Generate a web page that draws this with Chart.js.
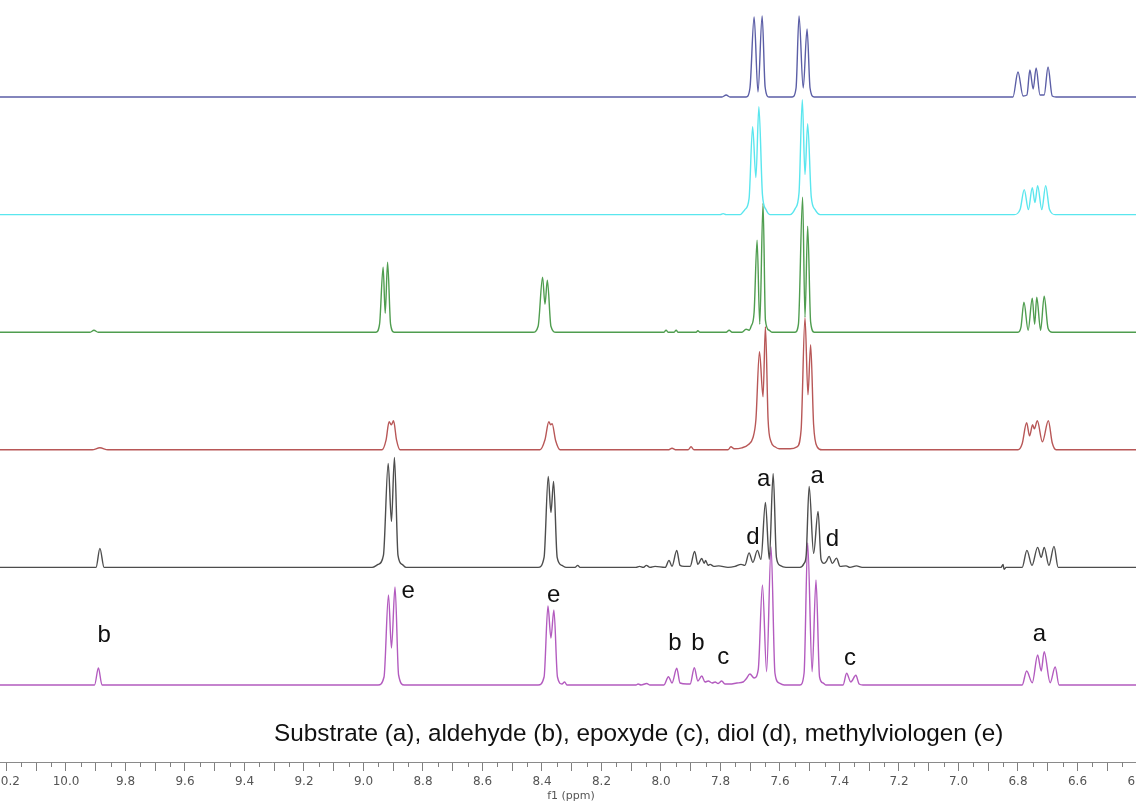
<!DOCTYPE html>
<html>
<head>
<meta charset="utf-8">
<title>RMN 1H</title>
<script src="https://cdn.jsdelivr.net/npm/chart.js@4.4.0/dist/chart.umd.min.js"></script>
<style>
  html, body { margin: 0; padding: 0; background: #fff; overflow: hidden; }
  #wrap { position: relative; width: 1136px; height: 802px; overflow: hidden; }
  #nmr { position: absolute; left: -26px; top: 0; }
  #caption { position: absolute; left: 274px; top: 719px; font: 24.3px/28px "Liberation Sans", Arial, sans-serif; color: #111; white-space: nowrap; }
</style>
</head>
<body>
<div id="wrap">
  <canvas id="nmr" width="1194" height="802"></canvas>
  <div id="caption">Substrate (a), aldehyde (b), epoxyde (c), diol (d), methylviologen (e)</div>
</div>
<script>
// Rango del eje f1 (ppm), invertido
const ppmMin = 6.2958
const ppmMax = 10.3092

// Espectros de arriba a abajo: [ppm, intensidad sobre la línea base]
const trace1 = [[10.4,0],[7.795,0],[7.781,2],[7.768,0],
  [7.714,0],[7.701,9],[7.687,80],[7.674,5],[7.660,81],[7.650,10],[7.637,0],
  [7.559,0],[7.546,9],[7.536,81],[7.522,9],[7.509,68],[7.499,9],[7.485,0],
  [6.817,0],[6.800,25],[6.783,1],[6.770,2],[6.760,27],[6.749,8],[6.739,29],[6.726,2],[6.712,2],[6.699,30],[6.685,1],[6.672,0],[6.2,0]]

const trace2 = [[10.4,0],[7.801,0],[7.791,1],[7.781,0],
  [7.734,0],[7.718,5],[7.704,16],[7.692,88],[7.681,37],[7.671,108],[7.659,20],[7.647,5],[7.634,0],
  [7.566,0],[7.549,6],[7.536,22],[7.525,115],[7.516,40],[7.507,91],[7.495,18],[7.482,5],[7.465,0],
  [6.813,0],[6.793,5],[6.779,25],[6.765,5],[6.752,27],[6.743,12],[6.734,29],[6.720,5],[6.707,29],[6.694,5],[6.675,0],[6.2,0]]

const trace3 = [[10.4,0],[9.919,0],[9.906,2],[9.892,0],
  [8.958,0],[8.946,8],[8.934,65],[8.927,19],[8.919,70],[8.909,8],[8.897,0],
  [8.430,0],[8.413,6],[8.398,55],[8.390,28],[8.382,52],[8.370,6],[8.353,0],
  [7.990,0],[7.983,2],[7.976,0],[7.956,0],[7.949,2],[7.943,0],[7.882,0],[7.876,1.5],[7.869,0],
  [7.781,0],[7.771,2],[7.761,0],[7.728,0],[7.714,3],[7.704,2],
  [7.697,6],[7.687,20],[7.677,92],[7.668,8],[7.657,129],[7.649,12],[7.637,2],[7.627,0],
  [7.549,0],[7.538,8],[7.524,135],[7.516,15],[7.507,106],[7.497,10],[7.485,0],
  [6.800,0],[6.790,5],[6.780,30],[6.766,2],[6.752,34],[6.744,8],[6.737,35],[6.724,2],[6.712,36],[6.699,4],[6.685,0],[6.2,0]]

const trace4 = [[10.4,0],[9.912,0],[9.886,2],[9.859,0],
  [8.938,0],[8.924,10],[8.914,28],[8.906,25],[8.899,29],[8.889,10],[8.877,0],
  [8.407,0],[8.390,10],[8.377,28],[8.371,25],[8.366,26],[8.354,9],[8.339,0],
  [7.976,0],[7.963,1.5],[7.949,0],[7.909,0],[7.899,3],[7.889,0],[7.775,0],[7.765,3],[7.754,1],
  [7.728,2],[7.707,5],[7.691,12],[7.681,30],[7.669,98],[7.657,53],[7.649,123],[7.640,30],[7.630,8],[7.617,3],[7.603,1],
  [7.566,1],[7.543,3],[7.529,20],[7.516,132],[7.506,55],[7.497,105],[7.487,25],[7.475,3],[7.459,0],
  [6.800,0],[6.786,6],[6.771,27],[6.761,14],[6.751,25],[6.745,21],[6.735,29],[6.718,8],[6.698,29],[6.685,7],[6.672,0],[6.2,0]]

const trace5 = [[10.4,0],[9.899,0],[9.886,19],[9.872,0],
  [8.971,0],[8.951,3],[8.933,12],[8.917,104],[8.906,46],[8.896,110],[8.884,12],[8.870,3],[8.857,0],
  [8.413,0],[8.393,10],[8.379,91],[8.370,55],[8.361,86],[8.349,10],[8.333,2],[8.319,0],
  [8.289,0],[8.280,2],[8.272,0],
  [8.084,0],[8.072,1],[8.060,0],[8.049,2],[8.037,0],[8.020,1],[7.986,0],[7.973,7],[7.963,1],[7.947,17],[7.936,2],[7.922,1],
  [7.902,1],[7.887,16],[7.876,3],[7.863,9],[7.855,4],[7.850,7],[7.842,2],[7.835,3],[7.822,1],[7.806,1.5],[7.775,0],[7.751,1],[7.731,3],[7.718,2],
  [7.704,14.5],[7.691,5],[7.676,17],[7.664,8],
  [7.649,65],[7.636,8],[7.623,94],[7.612,10],[7.600,2],[7.580,0],
  [7.533,0],[7.519,4],[7.512,12],[7.502,81],[7.487,14],[7.472,56],[7.462,8],[7.452,4],
  [7.444,6],[7.435,11],[7.424,4],[7.410,9.3],[7.398,1],[7.378,1.5],[7.365,0],[7.343,1.5],[7.324,0],
  [6.857,0],[6.850,3],[6.847,-2],[6.840,0],
  [6.786,0],[6.770,17],[6.753,2],[6.734,20],[6.722,10],[6.712,20],[6.696,2],[6.679,21],[6.665,0],[6.2,0]]

const trace6 = [[10.4,0],[9.904,0],[9.891,17],[9.879,0],
  [8.951,0],[8.931,8],[8.916,90],[8.906,37],[8.894,98],[8.882,10],[8.863,0],
  [8.413,0],[8.393,8],[8.380,79],[8.370,47],[8.360,75],[8.348,8],[8.333,1],[8.324,3],[8.316,0],
  [8.084,0],[8.077,1],[8.067,0],[8.048,1.5],[8.037,0],
  [7.990,0],[7.975,8.3],[7.963,2],[7.947,16.7],[7.936,2],[7.913,1],[7.902,1],[7.888,17.3],[7.876,4],[7.863,9],[7.852,3],
  [7.841,4],[7.828,2],[7.818,3],[7.808,1.5],[7.796,4],[7.785,1],[7.768,1],[7.745,2],[7.724,3],[7.714,6],[7.701,11],[7.687,7],
  [7.673,15.7],[7.659,100],[7.645,13.3],[7.630,138],[7.617,12],[7.603,2],[7.586,0],
  [7.533,0],[7.519,12],[7.507,142],[7.492,13.3],[7.479,105],[7.467,8],[7.455,2],[7.445,0],
  [7.388,0],[7.376,11.7],[7.362,3],[7.345,9.7],[7.334,1],[7.321,0],
  [6.786,0],[6.771,14],[6.752,2.3],[6.734,30],[6.722,14],[6.712,33.3],[6.692,2.3],[6.675,18],[6.662,0],[6.2,0]]

// Letras de asignación: [texto, ppm, espectro, altura]
const peakLabels = [
  ['b', 9.872, 5, 50],
  ['e', 8.850, 5, 94],
  ['e', 8.361, 5, 90],
  ['b', 7.953, 5, 42],
  ['b', 7.876, 5, 42],
  ['c', 7.791, 5, 28],
  ['c', 7.365, 5, 27],
  ['a', 6.728, 5, 51],
  ['d', 7.691, 4, 30],
  ['a', 7.655, 4, 88],
  ['a', 7.475, 4, 91.5],
  ['d', 7.424, 4, 28]
]

const traces = [trace1, trace2, trace3, trace4, trace5, trace6]
const traceColors = ['#5b5ea6', '#5ae6ee', '#4f9d4f', '#b85757', '#4d4d4d', '#b35bbf']

// Separación vertical entre espectros
const yMax = 762
const stackStep = 117.6
const bottomOffset = 77
function offsetOf(i) {
  return bottomOffset + (traces.length - 1 - i) * stackStep
}

// Marcas menores cada 0.05 ppm y letras sobre los picos
const extras = {
  id: 'extras',
  afterDraw(chart) {
    const { ctx, scales: { x, y } } = chart
    ctx.save()
    ctx.strokeStyle = '#808080'
    ctx.lineWidth = 1
    ctx.beginPath()
    for (let k = Math.ceil(x.min * 20); k <= x.max * 20; k++) {
      if (k % 2 === 0) continue
      const px = Math.round(x.getPixelForValue(k / 20)) + 0.5
      ctx.moveTo(px, x.top)
      ctx.lineTo(px, x.top + 5)
    }
    ctx.stroke()

    ctx.fillStyle = '#111'
    ctx.font = '24px "Liberation Sans", Arial, sans-serif'
    ctx.textAlign = 'center'
    ctx.textBaseline = 'middle'
    peakLabels.forEach(([text, ppm, idx, h]) => {
      ctx.fillText(text, x.getPixelForValue(ppm), y.getPixelForValue(offsetOf(idx) + h))
    })
    ctx.restore()
  }
}

const datasets = traces.map((trace, i) => ({
  data: trace.map(([ppm, h]) => ({ x: ppm, y: offsetOf(i) + h })),
  borderColor: traceColors[i],
  borderWidth: 1.4,
  pointRadius: 0,
  cubicInterpolationMode: 'monotone',
  borderJoinStyle: 'round',
  fill: false
}))

new Chart(document.getElementById('nmr'), {
  type: 'line',
  data: { datasets },
  options: {
    responsive: false,
    animation: false,
    events: [],
    layout: { padding: 0 },
    plugins: { legend: { display: false }, tooltip: { enabled: false } },
    scales: {
      x: {
        type: 'linear',
        reverse: true,
        min: ppmMin,
        max: ppmMax,
        border: { display: true, color: '#8a8a8a', width: 1 },
        grid: { drawOnChartArea: false, drawTicks: true, tickLength: 9, tickColor: '#808080' },
        ticks: {
          stepSize: 0.1,
          includeBounds: false,
          autoSkip: false,
          maxRotation: 0,
          padding: 4,
          color: '#555',
          font: { family: 'DejaVu Sans', size: 12 },
          callback: (value) => {
            const k = Math.round(value * 10)
            return k % 2 === 0 ? (k / 10).toFixed(1) : ''
          }
        },
        title: {
          display: true,
          text: 'f1 (ppm)',
          color: '#555',
          font: { family: 'DejaVu Sans', size: 11, lineHeight: 1 },
          padding: { top: 0, bottom: 0 }
        },
        afterFit: (scale) => {
          scale.height = 40
          scale.paddingLeft = 0
          scale.paddingRight = 0
        }
      },
      y: { display: false, min: 0, max: yMax }
    }
  },
  plugins: [extras]
})
</script>
</body>
</html>
